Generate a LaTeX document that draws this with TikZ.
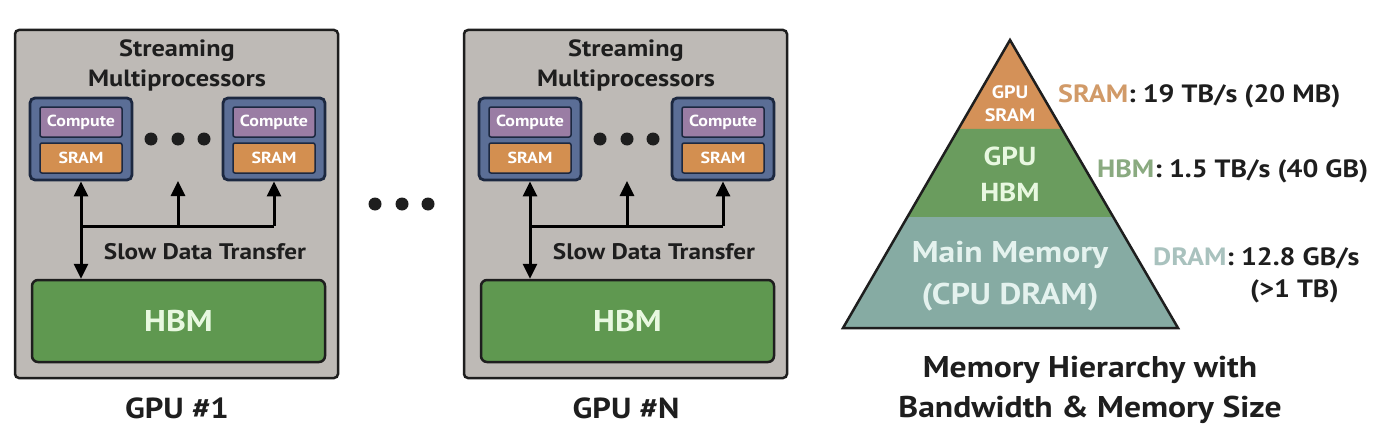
\documentclass[tikz,border=0pt]{standalone}
\usepackage{fontspec}
\setmainfont{PT Sans}[FakeStretch=1.12]
\usetikzlibrary{arrows.meta,calc}
\definecolor{boxgray}{HTML}{BEBAB6}
\definecolor{smfill}{HTML}{5B6E96}
\definecolor{smline}{HTML}{1C2840}
\definecolor{compfill}{HTML}{9A7DA4}
\definecolor{sramfill}{HTML}{D38F50}
\definecolor{hbmfill}{HTML}{5F9850}
\definecolor{hbmtext}{HTML}{E8F8E0}
\definecolor{pyrsram}{HTML}{D49158}
\definecolor{pyrhbm}{HTML}{6A9C5E}
\definecolor{pyrdram}{HTML}{86ABA3}
\definecolor{dramtext}{HTML}{E4F2EE}
\definecolor{labsram}{HTML}{D19A68}
\definecolor{labhbm}{HTML}{8AAA80}
\definecolor{labdram}{HTML}{A9C2BE}
\definecolor{ink}{HTML}{1E1E1E}
\tikzset{
  gpubox/.style={draw=ink, line width=2.5pt, fill=boxgray, rounded corners=4pt,
    minimum width=323pt, minimum height=348pt, inner sep=0pt},
  smbox/.style={draw=smline, line width=2.8pt, fill=smfill, rounded corners=5pt,
    minimum width=102pt, minimum height=82pt, inner sep=0pt},
  innerbox/.style={draw=smline, line width=1.5pt, rounded corners=2pt,
    minimum width=82pt, minimum height=30pt, inner sep=0pt, text=white,
    font=\bfseries\fontsize{16}{16}\selectfont},
  hbmbox/.style={draw=ink, line width=2.5pt, fill=hbmfill, rounded corners=6pt,
    minimum width=293pt, minimum height=82pt, inner sep=0pt, text=hbmtext,
    font=\bfseries\fontsize{30}{30}\selectfont},
  arr/.style={line width=3pt, draw=black},
  tip/.style={-{Triangle[length=15pt,width=14pt]}},
  dotc/.style={fill=ink},
  lab/.style={inner sep=0pt, text=ink, anchor=base west,
    font=\bfseries\fontsize{25}{25}\selectfont},
}
\begin{document}
\begin{tikzpicture}[x=1pt,y=-1pt]
\useasboundingbox (0,0) rectangle (1389,436);
\fill[white] (0,0) rectangle (1389,436);

\foreach \g/\dx/\lab in {1/0/1, 2/449/N} {
  \begin{scope}[xshift=\dx pt]
    \node[gpubox] (gpu\g) at (176.5,204) {};
    \node[align=center, inner sep=0pt, text=ink,
      font=\bfseries\fontsize{23.5}{30}\selectfont] (smt\g) at (177,65) {Streaming\\Multiprocessors};
    \node[smbox] (sma\g) at (81,139) {};
    \node[innerbox, fill=compfill] (ca\g) at (81,122) {Compute};
    \node[innerbox, fill=sramfill] (sa\g) at (81,158) {SRAM};
    \node[smbox] (smb\g) at (274,139) {};
    \node[innerbox, fill=compfill] (cb\g) at (274,122) {Compute};
    \node[innerbox, fill=sramfill] (sb\g) at (274,158) {SRAM};
    \fill[dotc] (151,139) circle (6.5pt);
    \fill[dotc] (178,139) circle (6.5pt);
    \fill[dotc] (204,139) circle (6.5pt);
    \node[hbmbox] (hbm\g) at (178.5,321) {HBM};
    \coordinate (jm\g) at (178,226);
    \coordinate (mt\g) at (178,181);
    \draw[arr, {Triangle[length=15pt,width=14pt]}-{Triangle[length=15pt,width=14pt]}]
      (sma\g.south) -- (sma\g.south |- hbm\g.north);
    \draw[arr] (sma\g.south |- jm\g) -- (smb\g.south |- jm\g);
    \draw[arr, tip] (jm\g) -- (mt\g);
    \draw[arr, tip] (smb\g.south |- jm\g) -- (smb\g.south);
    \node[inner sep=0pt, text=ink, font=\bfseries\fontsize{22.5}{22.5}\selectfont]
      (sdt\g) at (205,252) {Slow Data Transfer};
    \node[inner sep=0pt, text=ink, font=\bfseries\fontsize{29}{29}\selectfont]
      (gl\g) at (177,408) {GPU \#\lab};
  \end{scope}
}

% middle dots
\fill[dotc] (375,204) circle (6.5pt);
\fill[dotc] (402,204) circle (6.5pt);
\fill[dotc] (428,204) circle (6.5pt);

% pyramid
\coordinate (A) at (1010,40);
\coordinate (L) at (843,328);
\coordinate (R) at (1178,328);
\coordinate (L1) at ($(A)!0.309!(L)$);
\coordinate (R1) at ($(A)!0.309!(R)$);
\coordinate (L2) at ($(A)!0.6146!(L)$);
\coordinate (R2) at ($(A)!0.6146!(R)$);
\fill[pyrsram] (A) -- (L1) -- (R1) -- cycle;
\fill[pyrhbm] (L1) -- (R1) -- (R2) -- (L2) -- cycle;
\fill[pyrdram] (L2) -- (R2) -- (R) -- (L) -- cycle;
\draw[ink, line width=2.5pt, line join=miter] (A) -- (L) -- (R) -- cycle;

\node[align=center, inner sep=0pt, text=white,
  font=\bfseries\fontsize{18}{23}\selectfont] (ps) at (1010,104) {GPU\\SRAM};
\node[align=center, inner sep=0pt, text=hbmtext,
  font=\bfseries\fontsize{26}{36}\selectfont] (ph) at (1010,174) {GPU\\HBM};
\node[align=center, inner sep=0pt, text=dramtext,
  font=\bfseries\fontsize{30}{42}\selectfont] (pd) at (1010,276) {Main Memory\\(CPU DRAM)};

\node[lab] (ls) at (1058,102) {\textcolor{labsram}{SRAM}: 19 TB/s (20 MB)};
\node[lab] (lh) at (1097,177) {\textcolor{labhbm}{HBM}: 1.5 TB/s (40 GB)};
\node[lab] (ld) at (1153,265) {\textcolor{labdram}{DRAM}: 12.8 GB/s};
\node[lab] (ld2) at (1250,297) {(\textgreater 1 TB)};

\node[align=center, inner sep=0pt, text=ink,
  font=\bfseries\fontsize{30}{40}\selectfont] (cap) at (1090,390)
  {Memory Hierarchy with\\Bandwidth \& Memory Size};
\end{tikzpicture}
\end{document}
